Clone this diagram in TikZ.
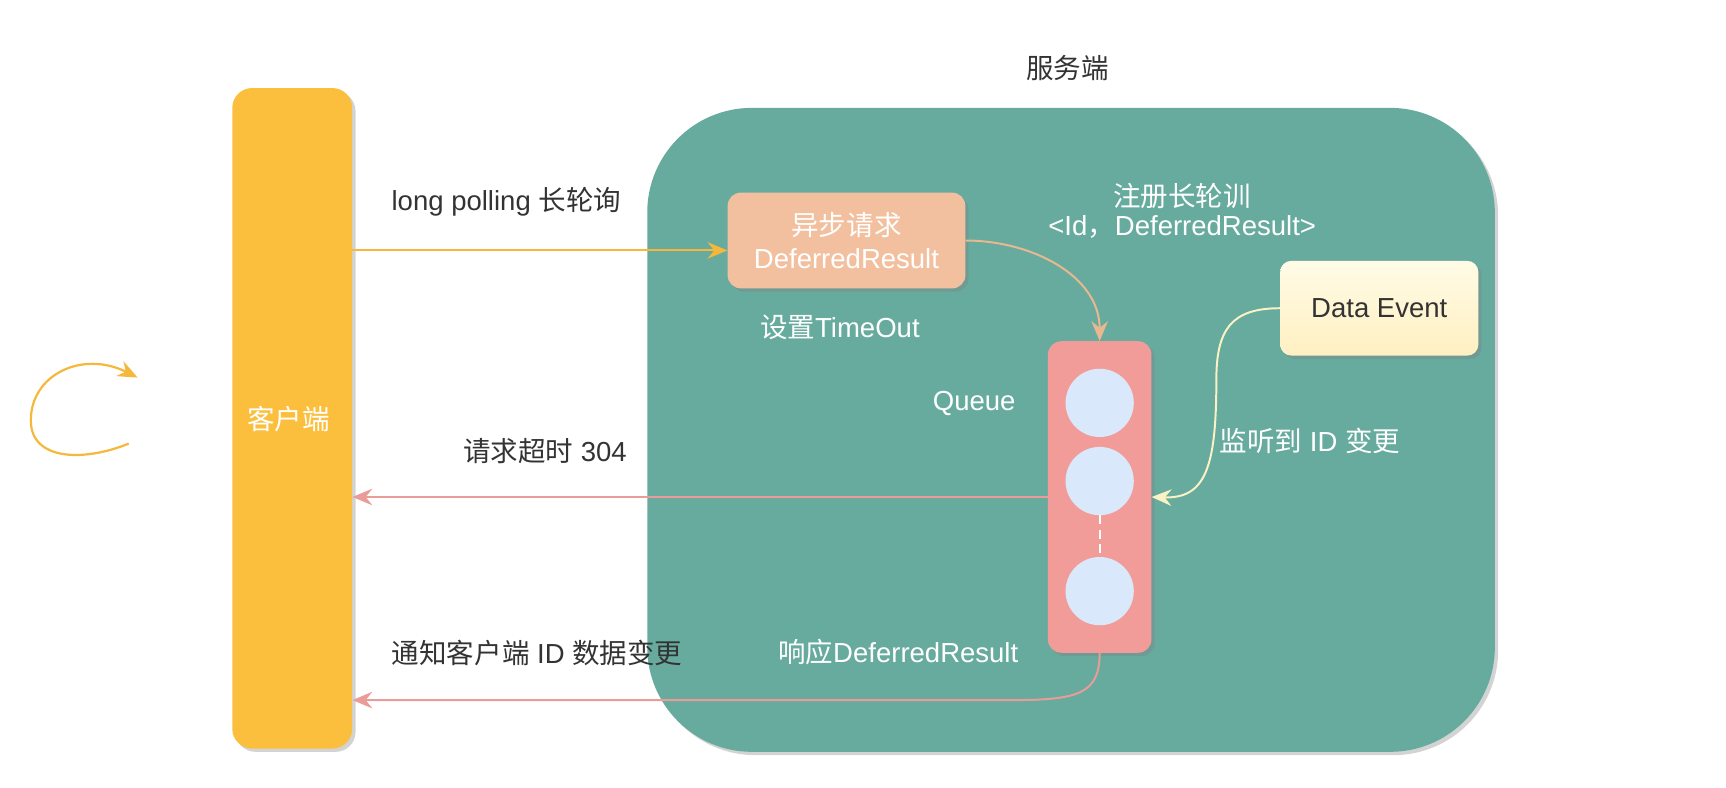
\documentclass[tikz,border=0pt]{standalone}
\usepackage{fontspec}
\setmainfont{Liberation Sans}
\newfontfamily\cjk{Noto Sans CJK SC}
\usetikzlibrary{arrows.meta,shadows}
\definecolor{cyellow}{HTML}{FBBF3D}
\definecolor{cteal}{HTML}{67AB9F}
\definecolor{cpeach}{HTML}{F2C09F}
\definecolor{cqueue}{HTML}{F19C99}
\definecolor{ccircle}{HTML}{DAE8FC}
\definecolor{cevtop}{HTML}{FFFBE6}
\definecolor{cevbot}{HTML}{FFF0C2}
\definecolor{ayellow}{HTML}{F5B83A}
\definecolor{ared}{HTML}{EA9C98}
\definecolor{apeach}{HTML}{E8B890}
\definecolor{apale}{HTML}{FAF2C4}
\definecolor{dtext}{HTML}{333333}
\tikzset{
  every node/.style={font=\fontsize{25}{30}\selectfont},
  sbox/.style={inner sep=0pt, drop shadow={shadow xshift=3pt,shadow yshift=-3pt,opacity=0.35,fill=black!50}},
  dark/.style={text=dtext, inner sep=0pt},
  light/.style={text=white, inner sep=0pt},
  tip/.style={-{Stealth[length=18pt,width=15pt,inset=6pt]}},
  conn/.style={line width=1.8pt, tip},
}
\begin{document}
\begin{tikzpicture}[x=1pt,y=-1pt]
\useasboundingbox (0,0) rectangle (1568,715);
% boxes
\node[sbox, fill=cteal, rounded corners=95pt, minimum width=770pt, minimum height=585pt] (server) at (973,390.5) {};
\node[sbox, fill=cyellow, rounded corners=18pt, minimum width=109pt, minimum height=600pt] (client) at (265.5,380) {};
\node[light] (clientlbl) at (262,381) {\cjk 客户端};
\node[sbox, fill=cpeach, rounded corners=12pt, minimum width=216pt, minimum height=87pt, align=center, text=white] (async) at (769,218.5) {{\cjk 异步请求}\\DeferredResult};
\node[sbox, fill=cqueue, rounded corners=12pt, minimum width=94pt, minimum height=283pt] (queue) at (999,451.5) {};
\node[circle, fill=ccircle, minimum size=62pt, inner sep=0pt] (c1) at (999,366) {};
\node[circle, fill=ccircle, minimum size=62pt, inner sep=0pt] (c2) at (999,437) {};
\node[circle, fill=ccircle, minimum size=62pt, inner sep=0pt] (c3) at (999,537) {};
\draw[white, line width=2pt, dash pattern=on 8pt off 5pt] (c2.south) -- (c3.north);
\node[sbox, top color=cevtop, bottom color=cevbot, rounded corners=10pt, minimum width=180pt, minimum height=86pt, text=dtext] (dataev) at (1253,280) {Data Event};
% labels
\node[dark] (serverlbl) at (970,62) {\cjk 服务端};
\node[dark] (lplbl) at (460,183) {long polling {\cjk 长轮询}};
\node[light] (tolbl) at (763,297) {{\cjk 设置}TimeOut};
\node[light] (reglbl1) at (1074,178) {\cjk 注册长轮训};
\node[light] (reglbl2) at (1074,206) {<Id{\cjk ，}DeferredResult>};
\node[light] (queuelbl) at (885,367) {Queue};
\node[light] (listenlbl) at (1190,401) {{\cjk 监听到} ID {\cjk 变更}};
\node[dark] (timeoutlbl) at (495,410) {{\cjk 请求超时} 304};
\node[dark] (notifylbl) at (488,593) {{\cjk 通知客户端} ID {\cjk 数据变更}};
\node[light] (resplbl) at (816,592) {{\cjk 响应}DeferredResult};
% connectors
\coordinate (ain) at ([yshift=-9pt]async.west);
\draw[conn, ayellow] (ain -| client.east) -- (ain);
\draw[conn, apeach] (async.east) to[out=0,in=90] (queue.north);
\draw[conn, apale] (dataev.west) .. controls (1118,280) and (1105,300) .. (1105,345) .. controls (1105,425) and (1095,453) .. (queue.east);
\draw[conn, ared] (queue.west) -- (queue.west -| client.east);
\coordinate (bend) at (920,636);
\draw[conn, ared] (queue.south) .. controls (999,630) and (980,636) .. (bend) -- (bend -| client.east);
% left loop arrow
\coordinate (ls) at (117,403);
\coordinate (le) at (125,343);
\draw[conn, ayellow, line width=2pt] (ls) .. controls (75,420) and (28,418) .. (28,382) .. controls (28,340) and (75,318) .. (le);
\end{tikzpicture}
\end{document}
